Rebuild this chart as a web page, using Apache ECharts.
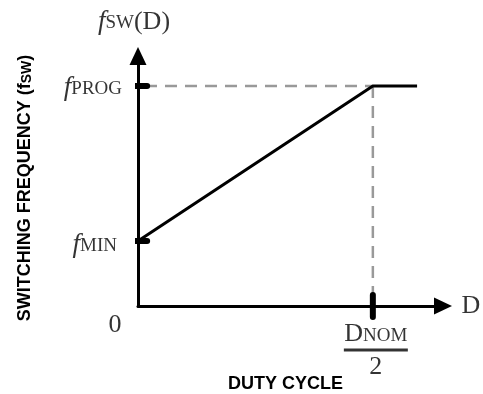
<!DOCTYPE html>
<html>
<head>
<meta charset="utf-8">
<script src="https://cdn.jsdelivr.net/npm/echarts@6.0.0/dist/echarts.min.js"></script>
<style>
  html, body { margin: 0; padding: 0; background: #fff; }
  #chart { width: 483px; height: 394px; }
</style>
</head>
<body>
<div id="chart"></div>
<script>
// schematic values (arbitrary units, 0..100 on both axes)
const xMax = 100
const yMax = 100
const dNom = 77       // D_NOM / 2
const dEnd = 91.5     // where the flat part stops
const fMin = 26
const fProg = 88
const curve = [[0, fMin], [dNom, fProg], [dEnd, fProg]]
const guideH = [[2.3, fProg], [dNom, fProg]]
const guideV = [[dNom, fProg], [dNom, 0]]
const yTicks = [fMin, fProg]
const xTicks = [dNom]

const serif = 'Liberation Serif'
const sans = 'Liberation Sans'

const rich = {
  f: { fontFamily: serif, fontStyle: 'italic', fontSize: 27, color: '#000' },
  sub: { fontFamily: serif, fontSize: 19, color: '#000', padding: [0, 0, -3, 0] },
  big: { fontFamily: serif, fontSize: 26, color: '#000' },
  dn: { fontFamily: serif, fontSize: 26, color: '#000', lineHeight: 22 },
  dsub: { fontFamily: serif, fontSize: 19, color: '#000', lineHeight: 22, padding: [0, 0, -3, 0] },
  bar: { backgroundColor: '#000', width: 64, height: 3, lineHeight: 9 },
  two: { fontFamily: serif, fontSize: 26, color: '#000', lineHeight: 26 }
}

function note (x, y, text, offset, align) {
  return {
    value: [x, y],
    label: { show: true, position: 'inside', formatter: text, offset: offset, align: align || 'center', verticalAlign: 'middle', rich: rich }
  }
}

const tickH = 3   // half length of y ticks, x units
const tickV = 4.4 // half length of x tick, y units
const tickSeries = yTicks.map(v => ({
  type: 'line', data: [[-tickH, v], [tickH, v]], clip: false, symbol: 'none', silent: true, z: 5,
  lineStyle: { color: '#000', width: 6, cap: 'round' }
})).concat(xTicks.map(v => ({
  type: 'line', data: [[v, -tickV], [v, tickV]], clip: false, symbol: 'none', silent: true, z: 5,
  lineStyle: { color: '#000', width: 6, cap: 'round' }
})))

const chart = echarts.init(document.getElementById('chart'))
chart.setOption({
  backgroundColor: '#fff',
  animation: false,
  grid: { left: 138, right: 40, top: 56, bottom: 88, outerBoundsMode: 'none', containLabel: false },
  xAxis: {
    type: 'value', min: 0, max: xMax,
    name: 'DUTY CYCLE', nameLocation: 'middle', nameGap: 69,
    nameTextStyle: { fontFamily: sans, fontWeight: 'bold', fontSize: 18, color: '#000', padding: [0, 10, 0, 0] },
    axisLine: { show: true, lineStyle: { color: '#000', width: 3 }, symbol: ['none', 'triangle'], symbolSize: [17, 18] },
    axisTick: { show: false }, axisLabel: { show: false }, splitLine: { show: false }
  },
  yAxis: {
    type: 'value', min: 0, max: yMax,
    name: 'SWITCHING FREQUENCY ({s|f}{t|SW})', nameLocation: 'middle', nameGap: 104,
    nameTextStyle: {
      fontFamily: sans, fontWeight: 'bold', fontSize: 18, color: '#000', padding: [0, 14, 0, 0],
      rich: {
        s: { fontFamily: sans, fontWeight: 'bold', fontSize: 18, color: '#000' },
        t: { fontFamily: sans, fontWeight: 'bold', fontSize: 14, color: '#000', padding: [0, 0, -5, 0] }
      }
    },
    axisLine: { show: true, lineStyle: { color: '#000', width: 3 }, symbol: ['none', 'triangle'], symbolSize: [17, 18] },
    axisTick: { show: false }, axisLabel: { show: false }, splitLine: { show: false }
  },
  series: [
    {
      type: 'line', data: guideH, symbol: 'none', silent: true, z: 2,
      lineStyle: { color: '#999', width: 2.5, type: [12, 8] }
    },
    {
      type: 'line', data: guideV, symbol: 'none', silent: true, z: 2,
      lineStyle: { color: '#999', width: 2.5, type: [12, 8] }
    },
    {
      type: 'line', data: curve, symbol: 'none', silent: true, z: 4,
      lineStyle: { color: '#000', width: 3 }
    }
  ].concat(tickSeries).concat([{
    type: 'scatter', symbolSize: 0, silent: true, z: 6,
    data: [
      note(0, yMax, '{f|f}{sub|SW}{big|(D)}', [-4, -34]),
      note(0, fProg, '{f|f}{sub|PROG}', [-16, 2], 'right'),
      note(0, fMin, '{f|f}{sub|MIN}', [-21, 4], 'right'),
      note(0, 0, '{big|0}', [-23, 19]),
      note(xMax, 0, '{big|D}', [28, 0]),
      note(dNom, 0, '{dn|D}{dsub|NOM}\n{bar|}\n{two|2}', [3, 46])
    ]
  }])
})
</script>
</body>
</html>
